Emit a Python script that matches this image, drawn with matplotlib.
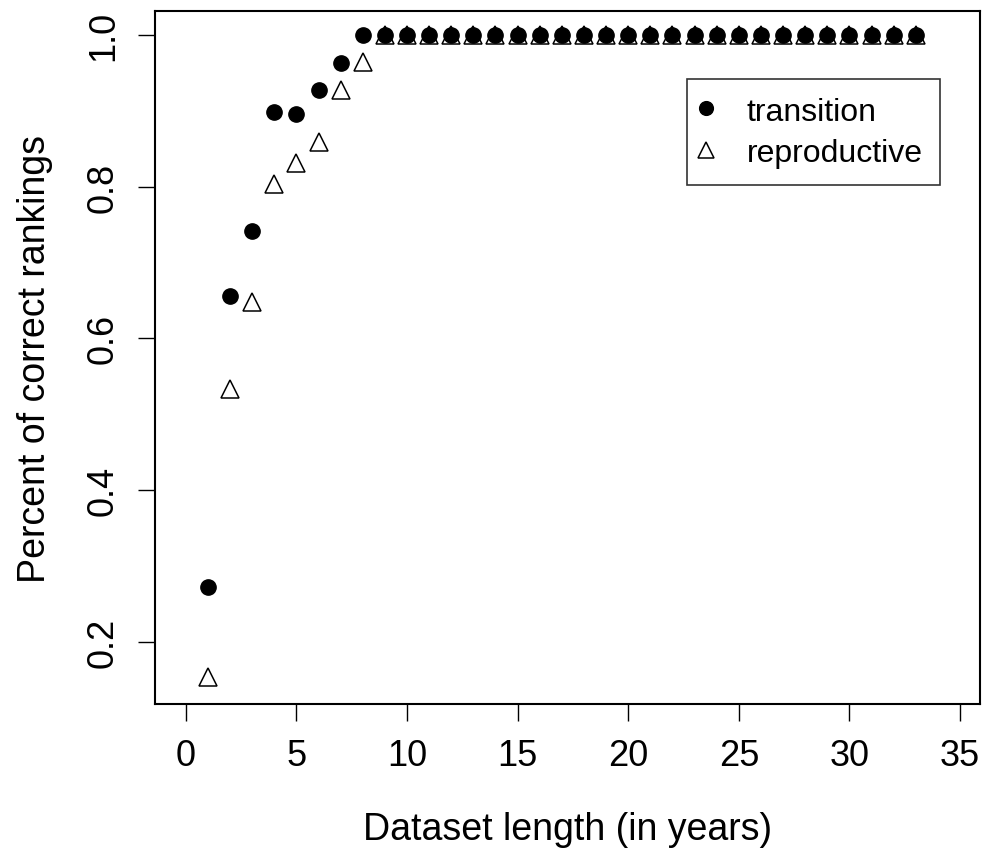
import numpy as np
import matplotlib
matplotlib.use("Agg")
from matplotlib import pyplot as plt

plt.rcParams['font.family'] = ['Liberation Sans', 'DejaVu Sans']

# dataset length in years
years = list(range(1, 34))

# percent of correct rankings
transition = [0.272, 0.656, 0.742, 0.899, 0.896, 0.928, 0.963] + [1.0] * 26
reproductive = [0.153, 0.533, 0.648, 0.804, 0.831, 0.859, 0.928, 0.964] + [1.0] * 25

x_ticks = [0, 5, 10, 15, 20, 25, 30, 35]
y_ticks = [0.2, 0.4, 0.6, 0.8, 1.0]

fig = plt.figure(figsize=(9.88, 8.53), dpi=100)
ax = fig.add_axes([0.1569, 0.1735, 0.835, 0.8124])

ax.plot(years, transition, linestyle='none', marker='o', markersize=11,
        color='black', label='transition')
ax.plot(years, reproductive, linestyle='none', marker='^', markersize=13,
        markerfacecolor='none', markeredgecolor='black', markeredgewidth=1.1,
        label='reproductive')

ax.set_xlim(-1.39, 35.9)
ax.set_ylim(0.118, 1.0316)
ax.set_xticks(x_ticks)
ax.set_yticks(y_ticks)
ax.set_yticklabels([f'{v:.1f}' for v in y_ticks], rotation=90, va='center')
ax.tick_params(direction='out', length=12.5, width=1.0, labelsize=26, pad=12)

for s in ax.spines.values():
    s.set_linewidth(1.5)

ax.set_xlabel('Dataset length (in years)', fontsize=27, labelpad=27)
ax.set_ylabel('Percent of correct rankings', fontsize=27, labelpad=24)

leg = ax.legend(loc='upper right', bbox_to_anchor=(0.9515, 0.902), fontsize=23,
                frameon=True, fancybox=False, edgecolor='black',
                handletextpad=1.2, borderpad=0.55, handlelength=0.1,
                labelspacing=0.35, borderaxespad=0, markerscale=0.9)
leg.get_frame().set_linewidth(1.2)

plt.savefig('out.png', dpi=100)
